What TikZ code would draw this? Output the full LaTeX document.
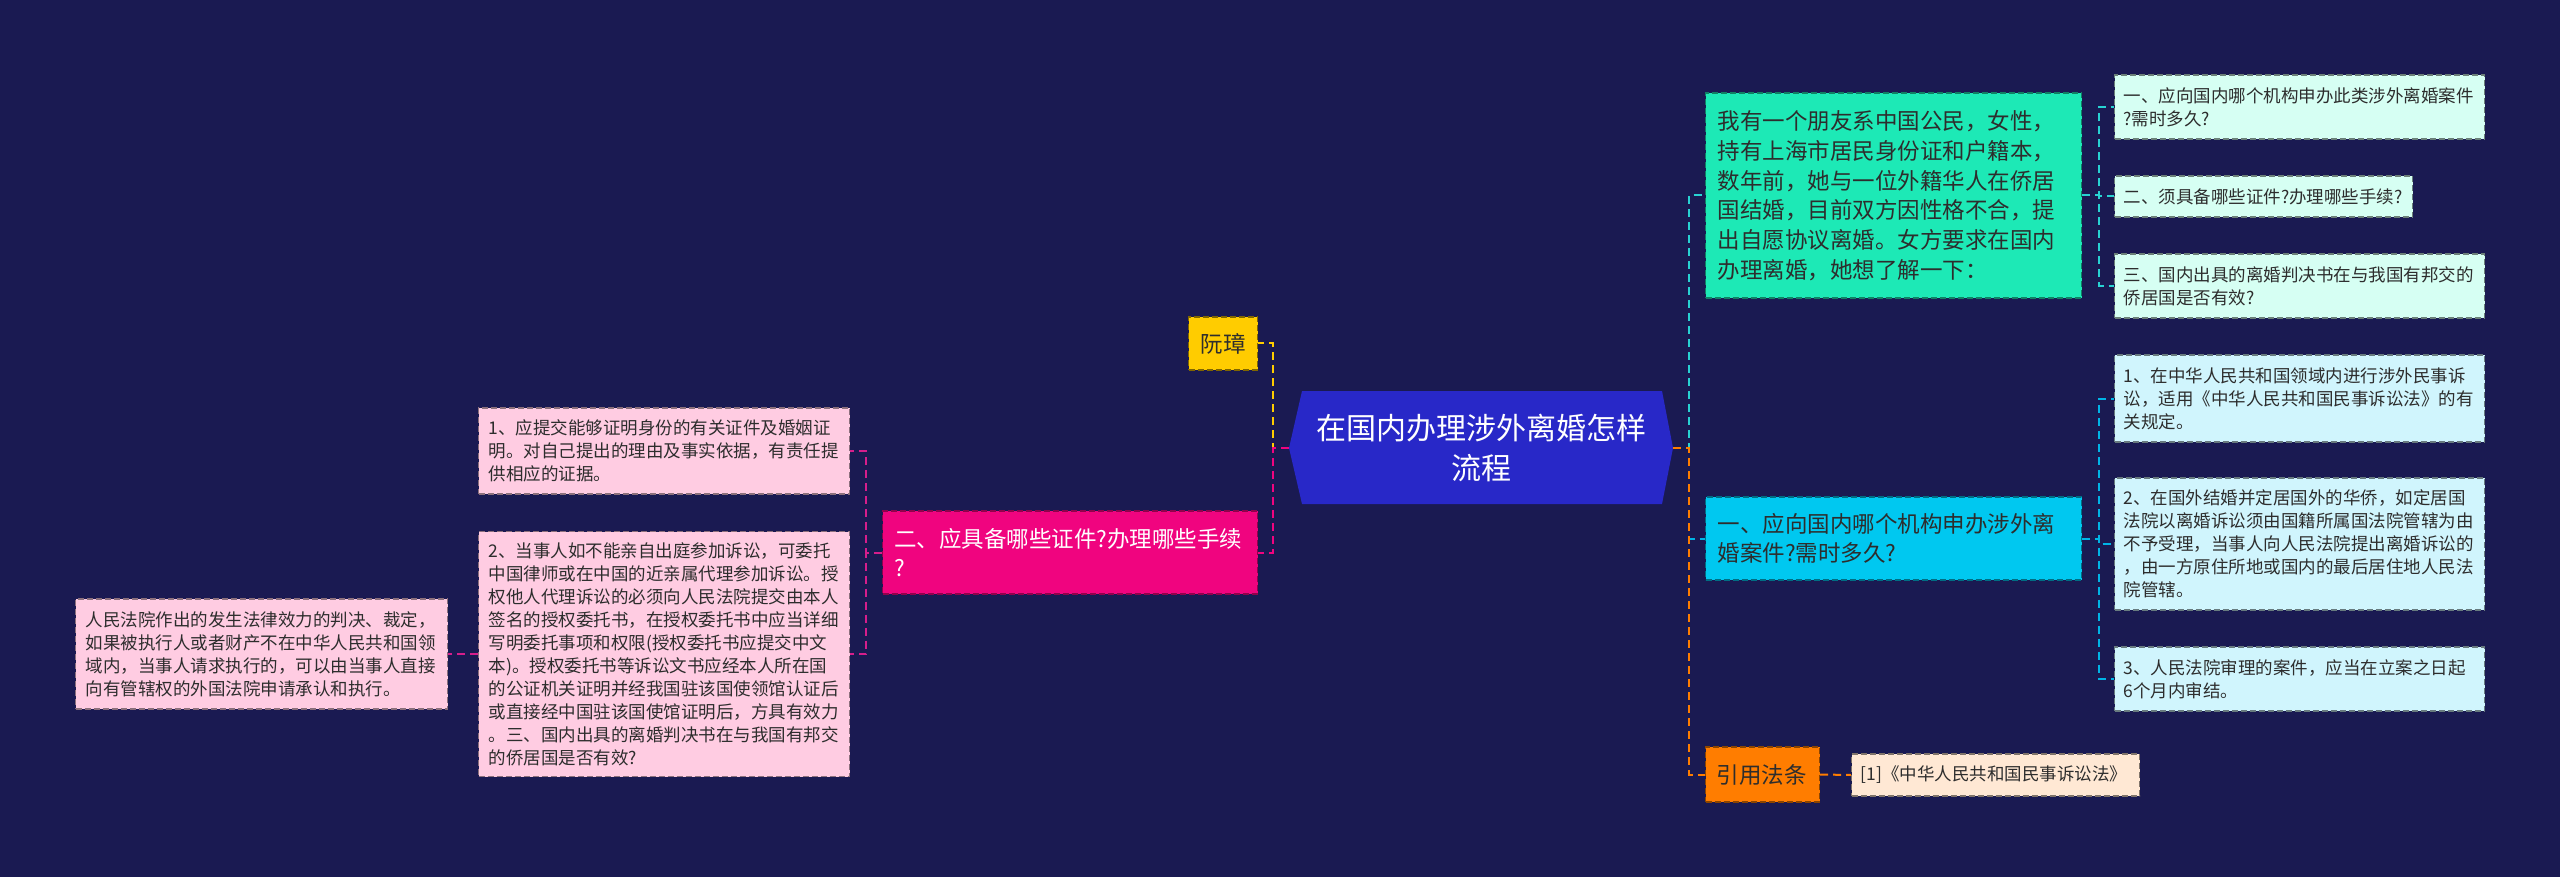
\documentclass[tikz,border=0pt]{standalone}
\usepackage{fontspec}
\setmainfont{Noto Sans CJK SC}
\usetikzlibrary{calc}
\definecolor{bg}{RGB}{26,26,82}
\definecolor{rootc}{RGB}{40,40,200}
\definecolor{yellowc}{RGB}{255,204,0}
\definecolor{magc}{RGB}{240,4,127}
\definecolor{pinkl}{RGB}{255,204,226}
\definecolor{pinkline}{RGB}{214,30,140}
\definecolor{tealc}{RGB}{29,233,182}
\definecolor{teall}{RGB}{214,255,243}
\definecolor{tealline}{RGB}{40,210,210}
\definecolor{cyanc}{RGB}{0,200,240}
\definecolor{cyanl}{RGB}{208,245,253}
\definecolor{cyanline}{RGB}{0,180,230}
\definecolor{orangec}{RGB}{255,125,0}
\definecolor{orangel}{RGB}{255,232,212}
\definecolor{txtdark}{RGB}{45,45,45}
\tikzset{
  box/.style={rectangle, anchor=west, align=left, inner xsep=12pt, inner ysep=0pt,
    dash pattern=on 6pt off 3pt, line width=1.2pt, text=txtdark},
  big/.style={font=\fontsize{22.5}{29}\selectfont},
  small/.style={font=\fontsize{17.5}{23}\selectfont, inner xsep=10pt},
  conn/.style={line width=2pt, dash pattern=on 8pt off 5pt},
}
\begin{document}
\begin{tikzpicture}[x=1pt,y=-1pt]
\fill[bg] (0,0) rectangle (2560,877);
\useasboundingbox (0,0) rectangle (2560,877);

% root
\coordinate (rootL) at (1289,448);
\coordinate (rootR) at (1673,448);
\fill[rootc] (rootL) -- (1302,391) -- (1662,391) -- (rootR) -- (1662,504) -- (1302,504) -- cycle;
\node[font=\fontsize{30}{40}\selectfont, text=white, align=center] (root) at (1481,448) {在国内办理涉外离婚怎样\\流程};

% left side
\node[box, big, fill=yellowc, draw=yellowc!50!black, text width=45pt, inner xsep=12pt, minimum height=53pt] (ruan) at (1188,343.5) {阮璋};
\node[box, big, fill=magc, draw=magc!60!black, text=white, text width=352pt, inner xsep=11.5pt, minimum height=83pt] (er) at (882,552.5) {二、应具备哪些证件?办理哪些手续\\?};
\node[box, small, fill=pinkl, draw=pinkl!55!black, text width=351pt, minimum height=86pt] (p1) at (478,451) {1、应提交能够证明身份的有关证件及婚姻证\\明。对自己提出的理由及事实依据，有责任提\\供相应的证据。};
\node[box, small, fill=pinkl, draw=pinkl!55!black, text width=351pt, minimum height=245pt] (p2) at (478,654) {2、当事人如不能亲自出庭参加诉讼，可委托\\中国律师或在中国的近亲属代理参加诉讼。授\\权他人代理诉讼的必须向人民法院提交由本人\\签名的授权委托书，在授权委托书中应当详细\\写明委托事项和权限(授权委托书应提交中文\\本)。授权委托书等诉讼文书应经本人所在国\\的公证机关证明并经我国驻该国使领馆认证后\\或直接经中国驻该国使馆证明后，方具有效力\\。三、国内出具的离婚判决书在与我国有邦交\\的侨居国是否有效?};
\node[box, small, fill=pinkl, draw=pinkl!55!black, text width=352pt, minimum height=110pt] (p3) at (75,654) {人民法院作出的发生法律效力的判决、裁定，\\如果被执行人或者财产不在中华人民共和国领\\域内，当事人请求执行的，可以由当事人直接\\向有管辖权的外国法院申请承认和执行。};

% right side
\node[box, big, fill=tealc, draw=tealc!55!black, text width=352pt, minimum height=205pt, font=\fontsize{22.5}{29.7}\selectfont] (wo) at (1705,195.5) {我有一个朋友系中国公民，女性，\\持有上海市居民身份证和户籍本，\\数年前，她与一位外籍华人在侨居\\国结婚，目前双方因性格不合，提\\出自愿协议离婚。女方要求在国内\\办理离婚，她想了解一下：};
\node[box, small, fill=teall, draw=teall!50!black, text width=352pt, inner xsep=9pt, minimum height=64pt] (r1) at (2114,107) {一、应向国内哪个机构申办此类涉外离婚案件\\?需时多久?};
\node[box, small, fill=teall, draw=teall!50!black, text width=280pt, inner xsep=9pt, minimum height=41pt] (r2) at (2114,196.5) {二、须具备哪些证件?办理哪些手续?};
\node[box, small, fill=teall, draw=teall!50!black, text width=352pt, inner xsep=9pt, minimum height=64pt] (r3) at (2114,286) {三、国内出具的离婚判决书在与我国有邦交的\\侨居国是否有效?};

\node[box, big, fill=cyanc, draw=cyanc!55!black, text width=352pt, minimum height=83pt] (yi) at (1705,538.5) {一、应向国内哪个机构申办涉外离\\婚案件?需时多久?};
\node[box, small, fill=cyanl, draw=cyanl!50!black, text width=352pt, inner xsep=9pt, minimum height=87pt] (s1) at (2114,398.5) {1、在中华人民共和国领域内进行涉外民事诉\\讼，适用《中华人民共和国民事诉讼法》的有\\关规定。};
\node[box, small, fill=cyanl, draw=cyanl!50!black, text width=352pt, inner xsep=9pt, minimum height=132pt] (s2) at (2114,544) {2、在国外结婚并定居国外的华侨，如定居国\\法院以离婚诉讼须由国籍所属国法院管辖为由\\不予受理，当事人向人民法院提出离婚诉讼的\\，由一方原住所地或国内的最后居住地人民法\\院管辖。};
\node[box, small, fill=cyanl, draw=cyanl!50!black, text width=352pt, inner xsep=9pt, minimum height=64pt] (s3) at (2114,679) {3、人民法院审理的案件，应当在立案之日起\\6个月内审结。};

\node[box, big, fill=orangec, draw=orangec!55!black, text width=92pt, inner xsep=11pt, minimum height=55pt] (yin) at (1705,774.5) {引用法条};
\node[box, small, fill=orangel, draw=orangel!50!black, text width=270pt, inner xsep=9pt, minimum height=42pt] (ref) at (1851,775) {[1]《中华人民共和国民事诉讼法》};

% connectors left
\draw[conn, yellowc] (rootL) -- ++(-16,0) |- (ruan.east);
\draw[conn, magc] (rootL) -- ++(-16,0) |- (er.east);
\draw[conn, pinkline] (er.west) -- ++(-16,0) |- (p1.east);
\draw[conn, pinkline] (er.west) -- ++(-16,0) |- (p2.east);
\draw[conn, pinkline] (p2.west) -- (p3.east);

% connectors right
\draw[conn, tealline] (rootR) -- ++(16,0) |- (wo.west);
\draw[conn, cyanline] (rootR) -- ++(16,0) |- (yi.west);
\draw[conn, orangec] (rootR) -- ++(16,0) |- (yin.west);
\draw[conn, tealline] (wo.east) -- ++(17,0) |- (r1.west);
\draw[conn, tealline] (wo.east) -- ++(17,0) |- (r2.west);
\draw[conn, tealline] (wo.east) -- ++(17,0) |- (r3.west);
\draw[conn, cyanline] (yi.east) -- ++(17,0) |- (s1.west);
\draw[conn, cyanline] (yi.east) -- ++(17,0) |- (s2.west);
\draw[conn, cyanline] (yi.east) -- ++(17,0) |- (s3.west);
\draw[conn, orangec] (yin.east) -- (ref.west);
\end{tikzpicture}
\end{document}
